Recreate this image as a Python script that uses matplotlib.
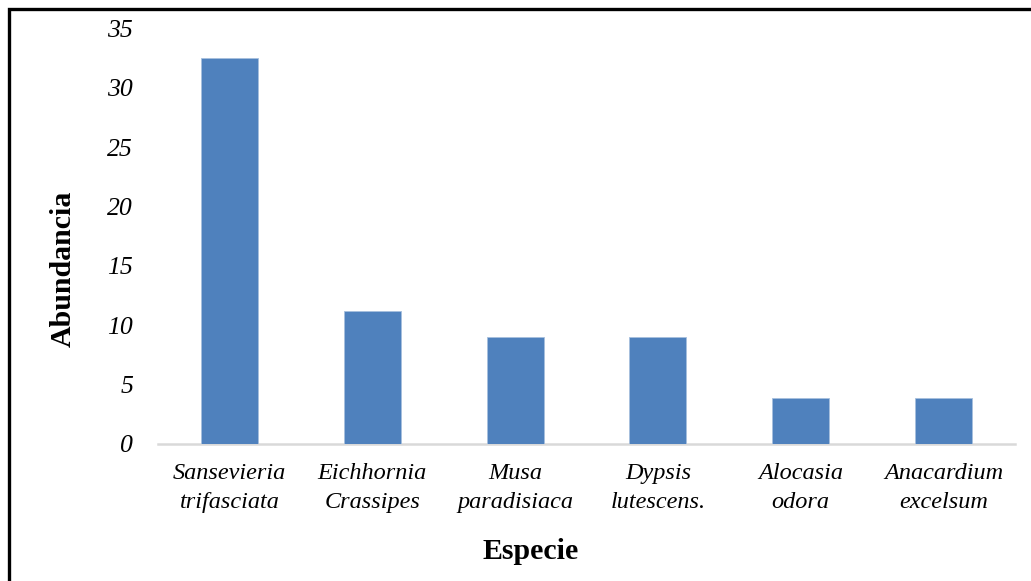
import matplotlib
matplotlib.use("Agg")
import matplotlib.pyplot as plt
from matplotlib.patches import Rectangle

especies = ["Sansevieria\ntrifasciata", "Eichhornia\nCrassipes", "Musa\nparadisiaca",
            "Dypsis\nlutescens.", "Alocasia\nodora", "Anacardium\nexcelsum"]
abundancia = [32.5, 11.2, 9.0, 9.0, 3.9, 3.9]
y_ticks = [0, 5, 10, 15, 20, 25, 30, 35]

W, H = 1031, 581
fig = plt.figure(figsize=(W / 100, H / 100), dpi=100)
ax = fig.add_axes([158 / W, 1 - 444 / H, (1015 - 158) / W, (444 - 28.3) / H])

x = range(len(especies))
ax.bar(x, abundancia, width=0.4, color="#4F81BD", edgecolor="#A6BFDD", linewidth=0.6, zorder=3)

ax.set_xlim(-0.5, len(especies) - 0.5)
ax.set_ylim(0, 35)
ax.set_yticks(y_ticks)
ax.set_yticklabels([str(t) for t in y_ticks], fontfamily="Liberation Serif",
                   fontstyle="italic", fontsize=18.5)
ax.set_xticks(list(x))
ax.set_xticklabels(especies, fontfamily="Liberation Serif", fontstyle="italic",
                   fontsize=17.5, linespacing=1.45)
ax.tick_params(axis="y", length=0, pad=18)
ax.tick_params(axis="x", length=0, pad=14)

for s in ["top", "right", "left"]:
    ax.spines[s].set_visible(False)
ax.spines["bottom"].set_color("#D9D9D9")
ax.spines["bottom"].set_linewidth(1.8)

ax.set_ylabel("Abundancia", fontfamily="Liberation Serif", fontweight="bold", fontsize=21.5)
ax.set_xlabel("Especie", fontfamily="Liberation Serif", fontweight="bold", fontsize=21.5)
ax.yaxis.set_label_coords(-0.095, 0.421)
ax.xaxis.set_label_coords(0.435, -0.225)

# frame around the chart area (top and left edges visible)
fig.add_artist(Rectangle((8.5 / W, -0.1), 1.2, 1 - 8.5 / H + 0.1, transform=fig.transFigure,
                         fill=False, edgecolor="black", linewidth=2.4))

fig.savefig("out.png", dpi=100, facecolor="white")
